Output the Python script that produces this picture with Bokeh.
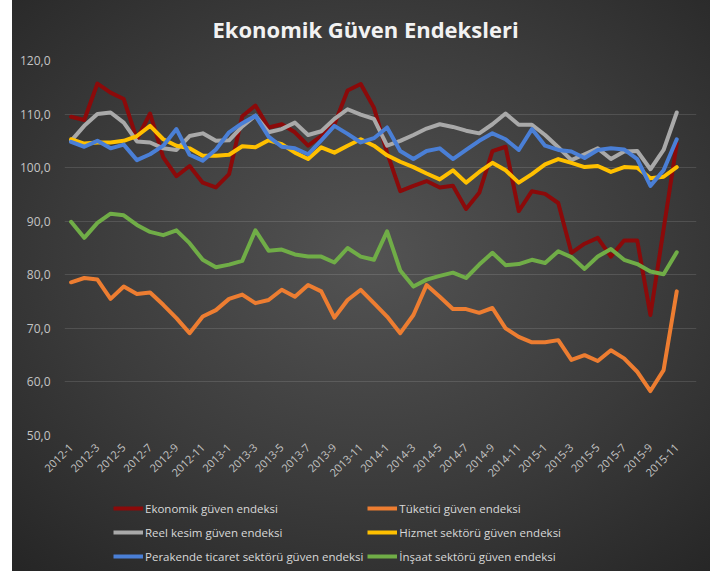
from math import pi
from bokeh.plotting import figure
from bokeh.layouts import column
from bokeh.models import Range1d, FixedTicker, CustomJSTickFormatter, Legend, LegendItem, Label
from bokeh.embed import file_html
from bokeh.resources import INLINE

months = ["2012-1", "2012-2", "2012-3", "2012-4", "2012-5", "2012-6", "2012-7", "2012-8",
          "2012-9", "2012-10", "2012-11", "2012-12",
          "2013-1", "2013-2", "2013-3", "2013-4", "2013-5", "2013-6", "2013-7", "2013-8",
          "2013-9", "2013-10", "2013-11", "2013-12",
          "2014-1", "2014-2", "2014-3", "2014-4", "2014-5", "2014-6", "2014-7", "2014-8",
          "2014-9", "2014-10", "2014-11", "2014-12",
          "2015-1", "2015-2", "2015-3", "2015-4", "2015-5", "2015-6", "2015-7", "2015-8",
          "2015-9", "2015-10", "2015-11", "2015-12"]

ekonomik = [109.5, 108.9, 115.7, 114.0, 112.8, 105.3, 110.1, 101.9, 98.4, 100.3,
            97.2, 96.3, 98.8, 109.6, 111.6, 107.5, 108.1, 106.6, 104.1, 105.9,
            108.1, 114.4, 115.6, 111.2, 102.8, 95.6, 96.6, 97.5, 96.3, 96.6,
            92.3, 95.3, 103.1, 103.9, 91.9, 95.6, 95.1, 93.4, 84.1, 85.8,
            86.9, 83.4, 86.4, 86.4, 72.5, 88.5, 104.5]
tuketici = [78.6, 79.4, 79.1, 75.5, 77.8, 76.4, 76.7, 74.4, 71.9, 69.1,
            72.2, 73.4, 75.5, 76.3, 74.7, 75.3, 77.2, 75.9, 78.1, 76.9,
            72.0, 75.3, 77.2, 74.7, 72.2, 69.1, 72.5, 78.1, 75.9, 73.6,
            73.6, 72.9, 73.8, 70.0, 68.4, 67.4, 67.4, 67.8, 64.1, 65.0,
            63.9, 65.9, 64.4, 61.9, 58.3, 62.2, 76.9]
reel = [105.0, 107.8, 110.0, 110.3, 108.4, 104.9, 104.7, 103.6, 103.3, 105.9,
        106.4, 105.0, 105.1, 107.7, 109.7, 106.6, 107.2, 108.4, 106.1, 106.8,
        109.1, 110.9, 109.9, 109.1, 104.1, 105.0, 106.1, 107.3, 108.1, 107.6,
        106.9, 106.4, 108.1, 110.1, 108.0, 108.0, 106.1, 103.8, 101.4, 102.5,
        103.6, 101.6, 103.0, 103.1, 99.7, 103.3, 110.3]
hizmet = [105.3, 104.5, 104.7, 104.7, 105.0, 105.9, 107.8, 105.3, 104.1, 103.6,
          102.2, 102.2, 102.4, 104.0, 103.8, 105.1, 104.4, 102.8, 101.6, 103.8,
          102.8, 104.1, 105.3, 104.1, 102.3, 101.1, 100.1, 98.9, 97.8, 99.5,
          97.2, 99.2, 100.9, 99.5, 97.2, 98.8, 100.6, 101.6, 100.9, 100.1,
          100.3, 99.2, 100.1, 100.0, 98.0, 98.3, 100.1]
perakende = [104.8, 103.9, 105.0, 103.6, 104.3, 101.4, 102.5, 104.1, 107.2, 102.4,
             101.3, 103.4, 106.6, 108.3, 109.7, 105.8, 103.9, 103.6, 102.5, 105.1,
             107.8, 106.3, 104.7, 105.5, 107.5, 103.1, 101.6, 103.1, 103.6, 101.6,
             103.3, 105.0, 106.4, 105.3, 103.3, 107.2, 104.1, 103.3, 103.0, 101.8,
             103.3, 103.6, 103.4, 101.6, 96.6, 99.5, 105.3]
insaat = [89.9, 86.9, 89.7, 91.4, 91.1, 89.3, 88.0, 87.4, 88.3, 85.9,
          82.8, 81.4, 81.9, 82.6, 88.3, 84.5, 84.7, 83.8, 83.4, 83.4,
          82.3, 85.0, 83.4, 82.8, 88.1, 80.8, 77.8, 79.1, 79.8, 80.4,
          79.4, 81.9, 84.1, 81.8, 82.0, 82.8, 82.2, 84.4, 83.3, 81.1,
          83.4, 84.8, 82.8, 82.0, 80.6, 80.1, 84.2]

title_text = "Ekonomik Güven Endeksleri"
series_names = ["Ekonomik güven endeksi", "Tüketici güven endeksi",
                "Reel kesim güven endeksi", "Hizmet sektörü güven endeksi",
                "Perakende ticaret sektörü güven endeksi", "İnşaat sektörü güven endeksi"]
series_values = [ekonomik, tuketici, reel, hizmet, perakende, insaat]
series_colors = ["#8B0A0A", "#ED7D31", "#A9A9A9", "#FFC000", "#4A7FD6", "#70AD47"]

y_ticks = [50, 60, 70, 80, 90, 100, 110, 120]


def strip(height):
    f = figure(width=710, height=height, output_backend="svg", toolbar_location=None,
               x_range=Range1d(0, 1), y_range=Range1d(0, 1),
               x_axis_type=None, y_axis_type=None, title=None,
               min_border_left=0, min_border_right=0, min_border_top=0, min_border_bottom=0)
    f.background_fill_color = None
    f.border_fill_color = None
    f.outline_line_color = None
    f.xgrid.visible = False
    f.ygrid.visible = False
    return f


# title strip
top = strip(45)
top.add_layout(Label(x=148, y=17, x_units="screen", y_units="screen", text=title_text,
                     text_color="#f2f2f2", text_font="Open Sans", text_font_size="22px",
                     text_font_style="bold", text_align="left", text_baseline="alphabetic"))

# main chart
p = figure(width=710, height=445, output_backend="svg", toolbar_location=None,
           x_range=Range1d(-0.5, len(months) - 0.5), y_range=Range1d(50, 120),
           title=None, min_border_left=64, min_border_right=14, min_border_top=15,
           min_border_bottom=55)
p.background_fill_color = None
p.border_fill_color = None
p.outline_line_color = None

yt = FixedTicker(ticks=y_ticks)
p.yaxis.ticker = yt
p.yaxis.formatter = CustomJSTickFormatter(code="return tick.toFixed(1).replace('.', ',');")
p.ygrid.ticker = yt
p.ygrid.grid_line_color = "#ffffff"
p.ygrid.grid_line_alpha = 0.12
p.xgrid.visible = False

xt = FixedTicker(ticks=list(range(0, len(months), 2)))
p.xaxis.ticker = xt
p.xaxis.major_label_overrides = {i: months[i] for i in range(0, len(months), 2)}
p.xaxis.major_label_orientation = pi / 4

for ax in (p.xaxis, p.yaxis):
    ax.axis_line_color = None
    ax.major_tick_line_color = None
    ax.minor_tick_line_color = None
    ax.major_label_text_color = "#c4c4c4"
    ax.major_label_text_font = "Open Sans"
p.yaxis.major_label_text_font_size = "12px"
p.xaxis.major_label_text_font_size = "11px"
p.yaxis.major_label_standoff = 8
p.xaxis.major_label_standoff = 4

for vals, col in zip(series_values, series_colors):
    p.line(list(range(len(vals))), vals, line_width=4, line_color=col,
           line_join="round", line_cap="round")

# legend strip below the chart
lg = strip(81)
items = []
for name, col in zip(series_names, series_colors):
    r = lg.line(x=[0], y=[float("nan")], line_width=4, line_color=col)
    items.append(LegendItem(label=name, renderers=[r]))

legend = Legend(items=items, location=(49, 5), orientation="horizontal", ncols=2,
                background_fill_alpha=0, border_line_color=None,
                label_text_color="#d9d9d9", label_text_font="Open Sans",
                label_text_font_size="11.5px", glyph_width=30, glyph_height=20,
                label_height=20, label_standoff=2, spacing=4,
                padding=0, margin=0)
lg.add_layout(legend, "center")

layout = column(top, p, lg, spacing=0)
layout.styles = {"background": "linear-gradient(#ffffff, #ffffff) left top / 12px 100% no-repeat, "
                               "radial-gradient(ellipse 75% 75% at 52% 45%, #535353 0%, #3b3b3b 55%, #252525 100%)"}

open("out.html", "w").write(file_html(layout, INLINE))
